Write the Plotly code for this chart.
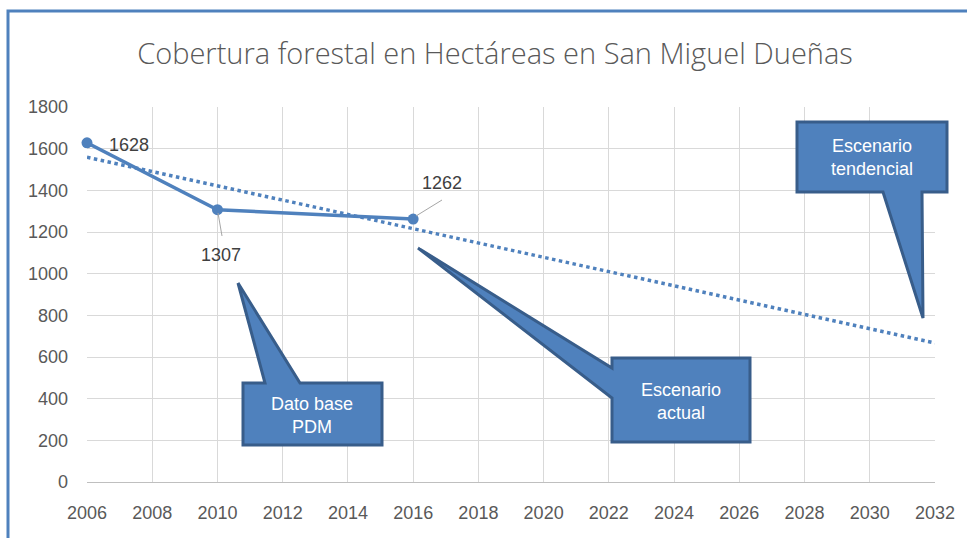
import plotly.graph_objects as go

# ---- data ----
years = [2006, 2010, 2016]
cobertura = [1628, 1307, 1262]
trend_years = [2006, 2032]
trend_values = [1559, 667]
x_ticks = list(range(2006, 2033, 2))
y_ticks = list(range(0, 1801, 200))
title_text = "Cobertura forestal en Hectáreas en San Miguel Dueñas"
callout_texts = ["Dato base<br>PDM", "Escenario<br>actual", "Escenario<br>tendencial"]

# ---- layout geometry (pixels) ----
W, H = 967, 538
L, R, T, B = 87, 935, 107, 482


def px(x):
    return (x - L) / (R - L)


def py(y):
    return (B - y) / (B - T)


def path(points):
    s = "M " + " L ".join(f"{px(x):.5f},{py(y):.5f}" for x, y in points) + " Z"
    return s


BLUE = "#4f81bd"
DARK = "#385d8a"
GREY = "#595959"

fig = go.Figure()
fig.add_trace(go.Scatter(
    x=years, y=cobertura, mode="lines+markers",
    line=dict(color=BLUE, width=3.5),
    marker=dict(color=BLUE, size=11),
    cliponaxis=False,
    showlegend=False, hoverinfo="skip"))
fig.add_trace(go.Scatter(
    x=trend_years, y=trend_values, mode="lines",
    line=dict(color=BLUE, width=3.5, dash="dot"),
    cliponaxis=False,
    showlegend=False, hoverinfo="skip"))

shapes = []
# outer frame
shapes.append(dict(type="rect", xref="paper", yref="paper",
                   x0=px(8), x1=px(1000), y0=py(11), y1=py(600),
                   line=dict(color=BLUE, width=3), fillcolor="rgba(0,0,0,0)", layer="below"))
# leader lines
shapes.append(dict(type="line", xref="paper", yref="paper",
                   x0=px(218), y0=py(213), x1=px(222), y1=py(236),
                   line=dict(color="#a6a6a6", width=1)))
shapes.append(dict(type="line", xref="paper", yref="paper",
                   x0=px(416), y0=py(216), x1=px(442), y1=py(200),
                   line=dict(color="#a6a6a6", width=1)))
# callouts
callouts = [
    [(243, 383), (265, 383), (238, 283), (300, 383), (382, 383), (382, 445), (243, 445)],
    [(612, 358), (750, 358), (750, 442), (612, 442), (612, 398), (418, 248), (612, 368)],
    [(797, 122), (947, 122), (947, 192), (922, 192), (923, 318), (883, 192), (797, 192)],
]
for pts in callouts:
    shapes.append(dict(type="path", xref="paper", yref="paper", path=path(pts),
                       fillcolor=BLUE, line=dict(color=DARK, width=3)))

annotations = []
lab_font = dict(family="Liberation Sans", size=18, color="#404040")
annotations.append(dict(x=years[0], y=cobertura[0], xref="x", yref="y", text=str(cobertura[0]),
                        showarrow=False, xshift=42, yshift=-2, font=lab_font))
annotations.append(dict(x=years[1], y=cobertura[1], xref="x", yref="y", text=str(cobertura[1]),
                        showarrow=False, xshift=4, yshift=-45, font=lab_font))
annotations.append(dict(x=years[2], y=cobertura[2], xref="x", yref="y", text=str(cobertura[2]),
                        showarrow=False, xshift=29, yshift=36, font=lab_font))

box_font = dict(family="Liberation Sans Narrow, Arial Narrow, Liberation Sans, sans-serif",
                size=18, color="white")
centers = [(312, 415), (681, 401), (872, 157)]
for (cx, cy), txt in zip(centers, callout_texts):
    annotations.append(dict(x=px(cx), y=py(cy), xref="paper", yref="paper", text=txt,
                            xanchor="center", yanchor="middle",
                            showarrow=False, font=box_font, align="center"))

fig.update_layout(
    width=W, height=H,
    margin=dict(l=L, r=W - R, t=T, b=H - B, autoexpand=False),
    paper_bgcolor="white", plot_bgcolor="white",
    title=dict(text=title_text, xref="container", yref="container",
               x=495 / W, y=1 - 54 / H, xanchor="center", yanchor="middle",
               font=dict(family="Open Sans", size=29, color=GREY, weight=300)),
    xaxis=dict(range=[2006, 2032], tickvals=x_ticks, showgrid=True, gridcolor="#d9d9d9",
               gridwidth=1, zeroline=False, showline=True, linecolor="#bfbfbf", linewidth=1,
               ticks="", ticklabelstandoff=14, automargin=False,
               tickfont=dict(family="Liberation Sans", size=18, color=GREY)),
    yaxis=dict(range=[0, 1800], tickvals=y_ticks, showgrid=True, gridcolor="#d9d9d9",
               gridwidth=1, zeroline=False, showline=False, ticks="", ticklabelstandoff=18,
               automargin=False,
               tickfont=dict(family="Liberation Sans", size=18, color=GREY)),
    shapes=shapes, annotations=annotations,
)

fig.write_html("out.html", config={"displayModeBar": False},
               post_script="document.body.style.margin='0';")
